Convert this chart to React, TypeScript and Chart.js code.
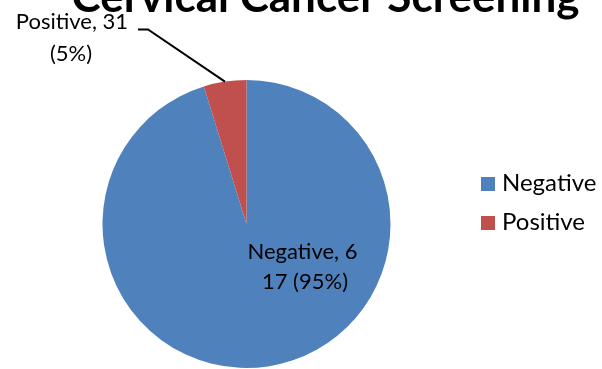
import { useEffect, useRef } from "react";
import { Chart, registerables } from "chart.js";

Chart.register(...registerables);

const TITLE = "Cervical Cancer Screening";
const categories = ["Negative", "Positive"];
const counts = [617, 31];
const sliceColors = ["#4F81BD", "#C0504D"];
// where each data label wraps onto its second line (character index)
const labelBreaks = [11, 12];

const FONT = "Lato, 'Open Sans', sans-serif";

function labelLines(i: number): string[] {
  const total = counts.reduce((a, b) => a + b, 0);
  const pct = Math.round((counts[i] / total) * 100);
  const full = `${categories[i]}, ${counts[i]} (${pct}%)`;
  const cut = labelBreaks[i];
  return [full.slice(0, cut).trim(), full.slice(cut).trim()];
}

const decorations = {
  id: "pieDecorations",
  afterDraw(chart: any) {
    const ctx: CanvasRenderingContext2D = chart.ctx;
    const arcs = chart.getDatasetMeta(0).data;
    ctx.save();

    // title
    ctx.fillStyle = "#000";
    ctx.font = `bold 44px ${FONT}`;
    ctx.textAlign = "center";
    ctx.textBaseline = "alphabetic";
    ctx.fillText(TITLE, 325.5, 12);

    // legend
    ctx.font = `24px ${FONT}`;
    ctx.textAlign = "left";
    categories.forEach((name, i) => {
      const y = 191 + i * 39;
      ctx.fillStyle = sliceColors[i];
      ctx.fillRect(481, y - 14, 14, 14);
      ctx.fillStyle = "#000";
      ctx.fillText(name, 502, y);
    });

    // Negative label inside its slice
    const neg = arcs[0];
    const r = neg.outerRadius;
    ctx.font = `22px ${FONT}`;
    ctx.textAlign = "center";
    const negLines = labelLines(0);
    const nx = neg.x + 0.42 * r;
    const ny = neg.y + 0.24 * r;
    ctx.fillText(negLines[0], nx - 4.5, ny);
    ctx.fillText(negLines[1], nx - 2, ny + 30);

    // Positive label outside with a leader line
    const pos = arcs[1];
    const mid = (pos.startAngle + pos.endAngle) / 2;
    const ex = pos.x + Math.cos(mid) * pos.outerRadius;
    const ey = pos.y + Math.sin(mid) * pos.outerRadius;
    const posLines = labelLines(1);
    ctx.fillText(posLines[0], 72, 29);
    ctx.fillText(posLines[1], 71, 61);
    ctx.strokeStyle = "#000";
    ctx.lineWidth = 2;
    ctx.beginPath();
    ctx.moveTo(138, 29.5);
    ctx.lineTo(148, 29.5);
    ctx.lineTo(ex, ey);
    ctx.stroke();

    ctx.restore();
  },
};

export default function App() {
  const ref = useRef<HTMLCanvasElement | null>(null);

  useEffect(() => {
    if (!ref.current) return;
    const chart = new Chart(ref.current, {
      type: "pie",
      data: {
        labels: categories,
        datasets: [
          {
            data: counts,
            backgroundColor: sliceColors,
            borderWidth: 0,
          },
        ],
      },
      options: {
        responsive: false,
        animation: false,
        layout: { padding: { left: 102.5, right: 211.5, top: 80, bottom: 1 } },
        plugins: {
          legend: { display: false },
          tooltip: { enabled: false },
          title: { display: false },
        },
      },
      plugins: [decorations],
    });
    return () => chart.destroy();
  }, []);

  return (
    <div style={{ position: "fixed", left: 0, top: 0, width: 602, height: 369, background: "#fff" }}>
      <canvas ref={ref} width={602} height={369} />
    </div>
  );
}
